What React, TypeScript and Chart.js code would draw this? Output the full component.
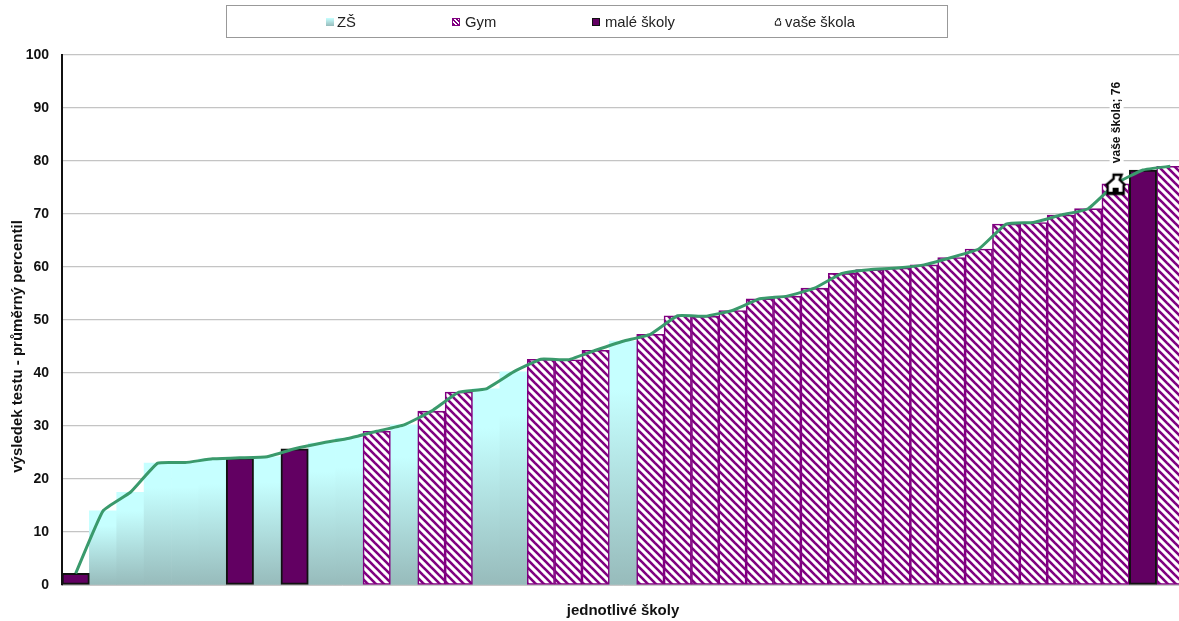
import React, { useEffect, useRef } from "react";
import { Chart, registerables } from "chart.js";

Chart.register(...registerables);

const schools = Array.from("abcdefghijklmnopqrstuvwxyzABCDEFGHIJKLMNO").map((c) => "škola " + c);
const _ = null;
const zsValues = [_, 14, 17.5, 23, 23.1, 23.8, _, 24.2, _, 26.8, 27.7, _, 30.2, _, _, 37, 40.2, _, _, _, 46, _, _, _, _, _, _, _, _, _, _, _, _, _, _, _, _, _, _, _, _];
const gymValues = [_, _, _, _, _, _, _, _, _, _, _, 29, _, 32.8, 36.4, _, _, 42.6, 42.5, 44.3, _, 47.3, 50.8, 50.7, 51.8, 54, 54.5, 56, 58.8, 59.5, 59.8, 60.4, 61.8, 63.4, 68.1, 68.4, 69.8, 71, 75.7, _, 79];
const maleValues = [2.2, _, _, _, _, _, 24, _, 25.7, _, _, _, _, _, _, _, _, _, _, _, _, _, _, _, _, _, _, _, _, _, _, _, _, _, _, _, _, _, _, 78.3, _];
const trendValues = [2.2, 14, 17.5, 23, 23.1, 23.8, 24, 24.2, 25.7, 26.8, 27.7, 29, 30.2, 32.8, 36.4, 37, 40.2, 42.6, 42.5, 44.3, 46, 47.3, 50.8, 50.7, 51.8, 54, 54.5, 56, 58.8, 59.5, 59.8, 60.4, 61.8, 63.4, 68.1, 68.4, 69.8, 71, 75.7, 78.3, 79];
const yourSchoolValues = [_, _, _, _, _, _, _, _, _, _, _, _, _, _, _, _, _, _, _, _, _, _, _, _, _, _, _, _, _, _, _, _, _, _, _, _, _, _, 76, _, _];
const yTicks = [0, 10, 20, 30, 40, 50, 60, 70, 80, 90, 100];
const yTitle = "výsledek testu - průměrný percentil";

const FONT = "'Liberation Sans', Arial, sans-serif";
const HOUSE = "M3 12 L10 6 L10 2 L18 2 L16 7 L21 12 L20 13 L20 21 L4 21 L4 13 Z";

function hatchTile() {
  const c = document.createElement("canvas");
  c.width = 8;
  c.height = 8;
  const x = c.getContext("2d")!;
  x.fillStyle = "#ffffff";
  x.fillRect(0, 0, 8, 8);
  x.strokeStyle = "#800080";
  x.lineWidth = 2.6;
  for (let i = -8; i <= 8; i += 8) {
    x.beginPath();
    x.moveTo(i - 2, -2);
    x.lineTo(i + 10, 10);
    x.stroke();
  }
  return c;
}

function houseImage() {
  const c = document.createElement("canvas");
  c.width = 24;
  c.height = 27;
  const x = c.getContext("2d")!;
  x.translate(0, 4);
  const p = new Path2D(HOUSE);
  x.fillStyle = "#ffffff";
  x.strokeStyle = "#000000";
  x.lineWidth = 2.4;
  x.fill(p);
  x.stroke(p);
  x.fillStyle = "#000000";
  x.fillRect(9, 15, 6, 6);
  x.fillRect(4, 19, 16, 3);
  return c;
}

const labelPlugin = {
  id: "yourSchoolLabel",
  afterDatasetsDraw(chart: any) {
    const i = chart.data.datasets.findIndex((d: any) => d.label === "vaše škola");
    const ds = chart.data.datasets[i];
    const idx = ds.data.findIndex((v: any) => v !== null);
    const pt = chart.getDatasetMeta(i).data[idx];
    const text = `${ds.label}; ${ds.data[idx]}`;
    const c = chart.ctx;
    c.save();
    c.translate(pt.x + 1, pt.y - 19);
    c.rotate(-Math.PI / 2);
    c.font = `bold 12px ${FONT}`;
    const w = c.measureText(text).width;
    c.fillStyle = "#ffffff";
    c.fillRect(-2, -7, w + 4, 14);
    c.fillStyle = "#111111";
    c.textAlign = "left";
    c.textBaseline = "middle";
    c.fillText(text, 0, 0);
    c.restore();
  },
};

const yTitlePlugin = {
  id: "yTitle",
  afterDraw(chart: any) {
    const c = chart.ctx;
    c.save();
    c.translate(18, chart.scales.y.getPixelForValue(45));
    c.rotate(-Math.PI / 2);
    c.font = `bold 15px ${FONT}`;
    c.fillStyle = "#111111";
    c.textAlign = "center";
    c.textBaseline = "middle";
    c.fillText(yTitle, 0, 0);
    c.restore();
  },
};

function zsFill(ctx: any) {
  const v = ctx.raw;
  const area = ctx.chart.chartArea;
  if (v === null || v === undefined || !area) return "#C6FFFF";
  const s = ctx.chart.scales.y;
  const g = ctx.chart.ctx.createLinearGradient(0, s.getPixelForValue(v), 0, s.getPixelForValue(0));
  g.addColorStop(0, "#C6FFFF");
  g.addColorStop(0.2, "#C6FFFF");
  g.addColorStop(1, "#97BBBB");
  return g;
}

const legendItems = [
  { label: "ZŠ", left: 324, kind: "zs" },
  { label: "Gym", left: 452, kind: "gym" },
  { label: "malé školy", left: 592, kind: "male" },
  { label: "vaše škola", left: 772, kind: "house" },
];

function Swatch({ kind }: { kind: string }) {
  const base: React.CSSProperties = { position: "absolute", left: 0, top: 5, width: 8, height: 8, boxSizing: "border-box" };
  if (kind === "zs") return <span style={{ ...base, left: 2, background: "linear-gradient(#C6FFFF,#97BBBB)" }} />;
  if (kind === "gym")
    return (
      <span
        style={{
          ...base,
          border: "1.5px solid #800080",
          background: "repeating-linear-gradient(45deg,#800080 0 1.5px,#fff 1.5px 3px)",
        }}
      />
    );
  if (kind === "male") return <span style={{ ...base, background: "#620062", border: "1px solid #111" }} />;
  return (
    <svg viewBox="0 0 24 23" width={8} height={8} style={{ position: "absolute", left: 2, top: 5 }}>
      <path d={HOUSE} fill="#fff" stroke="#000" strokeWidth={3} />
    </svg>
  );
}

export default function App() {
  const ref = useRef<HTMLCanvasElement>(null);
  useEffect(() => {
    const canvas = ref.current!;
    const pattern = canvas.getContext("2d")!.createPattern(hatchTile(), "repeat")!;
    const chart = new Chart(canvas, {
      type: "bar",
      data: {
        labels: schools,
        datasets: [
          { type: "line", label: "trend", data: trendValues, order: 1, borderColor: "#3A9A6C", borderWidth: 3, tension: 0.12, pointRadius: 0, fill: false },
          { type: "line", label: "vaše škola", data: yourSchoolValues, order: 0, showLine: false, pointStyle: houseImage() as any, pointRadius: 11 },
          { label: "ZŠ", data: zsValues, order: 4, backgroundColor: zsFill as any, borderWidth: 0 },
          { label: "Gym", data: gymValues, order: 3, backgroundColor: pattern as any, borderColor: "#800080", borderWidth: 1.6, borderSkipped: false },
          { label: "malé školy", data: maleValues, order: 2, backgroundColor: "#620062", borderColor: "#111111", borderWidth: 2, borderSkipped: false },
        ] as any,
      },
      options: {
        animation: false,
        responsive: false,
        devicePixelRatio: 1,
        layout: { autoPadding: false, padding: { top: 55, right: 0, left: 0, bottom: 0 } },
        datasets: { bar: { grouped: false, barPercentage: 1, categoryPercentage: 1 } },
        plugins: { legend: { display: false }, tooltip: { enabled: false } },
        scales: {
          x: {
            grid: { display: false },
            border: { color: "#c8c8c8", width: 1 },
            ticks: { display: false },
            title: { display: true, text: "jednotlivé školy", color: "#111", font: { family: FONT, size: 15, weight: "bold" }, padding: { top: 9, bottom: 1 } },
          },
          y: {
            min: 0,
            max: 100,
            afterBuildTicks: (a: any) => { a.ticks = yTicks.map((value) => ({ value })); },
            afterFit: (a: any) => { a.width = 62; },
            grid: { color: "#c4c4c4", lineWidth: 1.2, drawTicks: false },
            border: { color: "#111111", width: 2 },
            ticks: { color: "#111", padding: 13, font: { family: FONT, size: 14, weight: "bold" } },
          },
        },
      } as any,
      plugins: [labelPlugin, yTitlePlugin],
    });
    return () => chart.destroy();
  }, []);
  return (
    <div style={{ position: "fixed", left: 0, top: 0, width: 1179, height: 621, overflow: "hidden", background: "#fff" }}>
      <canvas ref={ref} width={1184} height={621} style={{ display: "block", width: 1184, height: 621 }} />
      <div style={{ position: "absolute", left: 226, top: 5, width: 722, height: 33, boxSizing: "border-box", border: "1px solid #999" }} />
      {legendItems.map((it) => (
        <div key={it.label} style={{ position: "absolute", left: it.left, top: 13, height: 18, paddingLeft: 13, font: `14.8px ${FONT}`, lineHeight: "18px", color: "#222", whiteSpace: "nowrap" }}>
          <Swatch kind={it.kind} />
          {it.label}
        </div>
      ))}
    </div>
  );
}
